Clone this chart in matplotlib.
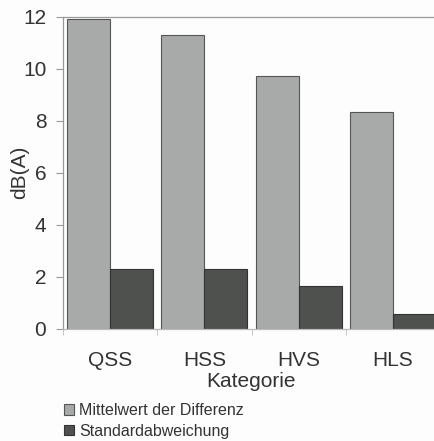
import matplotlib
matplotlib.use("Agg")
import matplotlib.pyplot as plt
import numpy as np
from matplotlib.patches import Patch

categories = ["QSS", "HSS", "HVS", "HLS"]
mittelwert = [11.9, 11.3, 9.7, 8.34]
standardabw = [2.31, 2.31, 1.66, 0.58]
series_names = ["Mittelwert der Differenz", "Standardabweichung"]
yticks = [0, 2, 4, 6, 8, 10, 12]

plt.rcParams['font.family'] = ['Liberation Sans', 'DejaVu Sans']

W, H = 434, 441
fig = plt.figure(figsize=(W/100, H/100), dpi=100)
fig.patch.set_facecolor('#fdfdfd')

left, right, top, bottom = 63, 440, 16.5, 329
ax = fig.add_axes([left/W, 1 - bottom/H, (right-left)/W, (bottom-top)/H])
ax.set_facecolor('#fdfdfd')

x = np.arange(len(categories))
bw = 0.455
ax.bar(x - bw/2, mittelwert, width=bw, color='#a8aaa9', edgecolor='#555555', linewidth=0.8,
       label=series_names[0])
ax.bar(x + bw/2, standardabw, width=bw, color='#4f514f', edgecolor='#333333', linewidth=0.8,
       label=series_names[1])

ax.set_xlim(-0.5, len(categories) - 0.5)
ax.set_ylim(0, 12)
ax.set_yticks(yticks)
ax.set_xticks(x)
ax.set_xticklabels(categories)
ax.set_xticks(np.arange(len(categories) + 1) - 0.5, minor=True)
ax.tick_params(axis='x', which='major', length=0, labelsize=15, pad=16, colors='#333333')
ax.tick_params(axis='x', which='minor', length=4, color='#bbbbbb', direction='out')
ax.tick_params(axis='y', length=5, color='#999999', labelsize=15, pad=7, labelcolor='#333333')
for s in ax.spines.values():
    s.set_color('#999999')
    s.set_linewidth(0.9)
ax.spines['bottom'].set_color('#bbbbbb')

ax.set_ylabel("dB(A)", fontsize=15, color='#333333')
ax.yaxis.set_label_coords((29 - left) / (right - left), 0.5)
ax.set_xlabel("Kategorie", fontsize=15, color='#333333', labelpad=1)

handles = [Patch(facecolor='#a8aaa9', edgecolor='#555555', linewidth=0.8),
           Patch(facecolor='#4f514f', edgecolor='#333333', linewidth=0.8)]
fig.legend(handles, series_names, loc='upper left', bbox_to_anchor=(56/W, 1 - 395/H),
           frameon=False, fontsize=11.5, handlelength=0.65, handleheight=0.65,
           handletextpad=0.3, labelspacing=0.35, borderpad=0, labelcolor='#333333')

fig.savefig("out.png", dpi=100, facecolor=fig.get_facecolor())
